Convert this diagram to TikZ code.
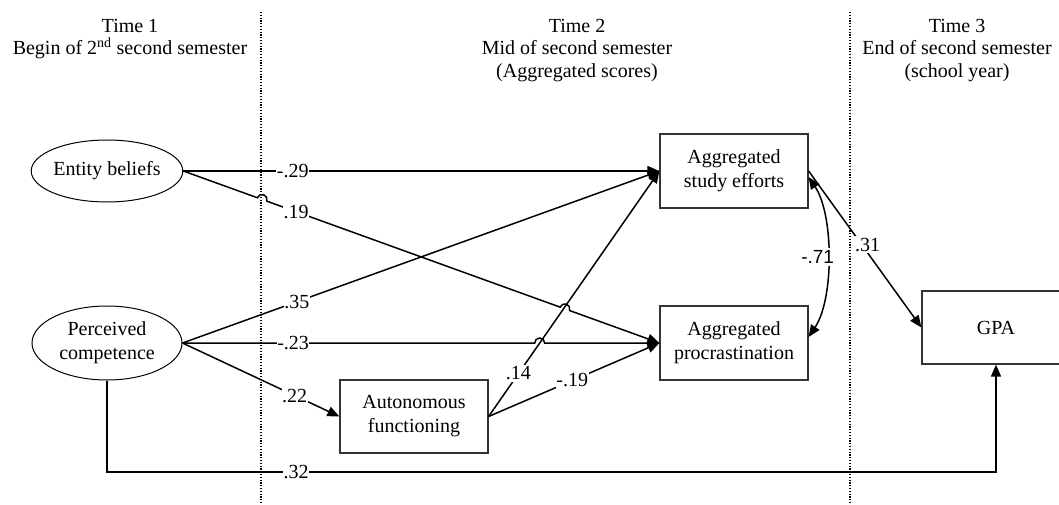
\documentclass[tikz,border=0pt]{standalone}
\usepackage{fontspec}
\setmainfont{Liberation Serif}
\newfontfamily\sansfam{Liberation Sans}
\usetikzlibrary{shapes.geometric,arrows.meta,calc}

\begin{document}
\begin{tikzpicture}[x=1pt,y=-1pt,font=\fontsize{20}{24}\selectfont]
\tikzstyle{head}=[anchor=north,align=center,inner sep=0pt,font=\fontsize{20}{22.5}\selectfont]
\tikzstyle{latent}=[draw,shape=ellipse,minimum width=150pt,inner sep=0pt,align=center,line width=1pt]
\tikzstyle{box}=[draw=black!80,shape=rectangle,minimum width=148pt,minimum height=74pt,inner sep=0pt,align=center,line width=1.2pt]
\tikzstyle{conn}=[line width=1.5pt,-{Triangle[length=12pt,width=10pt]}]
\tikzstyle{lbl}=[fill=white,inner xsep=0.5pt,inner ysep=2pt]
\tikzstyle{sep}=[line width=1.2pt,dash pattern=on 1.2pt off 1.6pt]
\clip (0,0) rectangle (1059,505);

% time points
\node[head] at (130,19) (t1) {Time 1\\Begin of 2\textsuperscript{nd} second semester};
\node[head] at (577,19) (t2) {Time 2\\Mid of second semester\\(Aggregated scores)};
\node[head] at (957,19) (t3) {Time 3\\End of second semester\\(school year)};
\coordinate (s1a) at (261,12);
\coordinate (s1b) at (261,505);
\coordinate (s2a) at (850,12);
\coordinate (s2b) at (850,505);
\draw[sep] (s1a) -- (s1b);
\draw[sep] (s2a) -- (s2b);

% variables
\node[latent,minimum height=62pt] at (107,171) (ent) {Entity beliefs};
\node[latent,minimum height=74pt] at (107,343) (perc) {Perceived\\competence};
\node[box] at (734,171) (eff) {Aggregated\\study efforts};
\node[box] at (734,343) (proc) {Aggregated\\procrastination};
\node[box,minimum height=73pt] at (414,416.5) (auto) {Autonomous\\functioning};
\node[box,minimum height=73pt] at (996,327.5) (gpa) {GPA};

% paths
\draw[conn] (ent.east) -- node[lbl,pos=0.23] {-.29} (eff.west);
\draw[conn] (ent.east) -- ($(ent.east)!0.1555!(proc.west)$)
  arc[start angle=199.79,end angle=379.79,radius=5]
  -- node[lbl,pos=0.1] {.19} ($(ent.east)!0.7915!(proc.west)$)
  arc[start angle=199.79,end angle=379.79,radius=5] -- (proc.west);
\draw[conn] (perc.east) -- node[lbl,pos=0.24] {.35} (eff.west);
\draw[conn] (perc.east) -- node[lbl,pos=0.314] {-.23} ($(perc.east)!0.7385!(proc.west)$)
  arc[start angle=180,end angle=360,radius=5] -- (proc.west);
\draw[conn] (perc.east) -- node[lbl,pos=0.715] {.22} (auto.west);
\draw[conn] (auto.east) -- node[lbl,pos=0.175] {.14} (eff.west);
\draw[conn] (auto.east) -- node[lbl,pos=0.49] {-.19} (proc.west);
\draw[conn] (eff.east) -- node[lbl,pos=0.47,xshift=6pt] {.31} (gpa.west);

\coordinate (c71a) at ($(eff.east)+(0,6)$);
\coordinate (c71b) at ($(proc.east)+(0,-6)$);
\draw[line width=1.5pt,{Triangle[length=12pt,width=10pt]}-{Triangle[length=12pt,width=10pt]}]
  (c71a) .. controls (834,215) and (834,299) .. node[lbl,pos=0.5,xshift=-10pt,font=\sansfam\fontsize{19}{22}\selectfont] {-.71} (c71b);

\coordinate (bot) at (296,472);
\draw[conn] (perc.south) |- (bot) node[lbl] {.32} -| (gpa.south);
\end{tikzpicture}
\end{document}
